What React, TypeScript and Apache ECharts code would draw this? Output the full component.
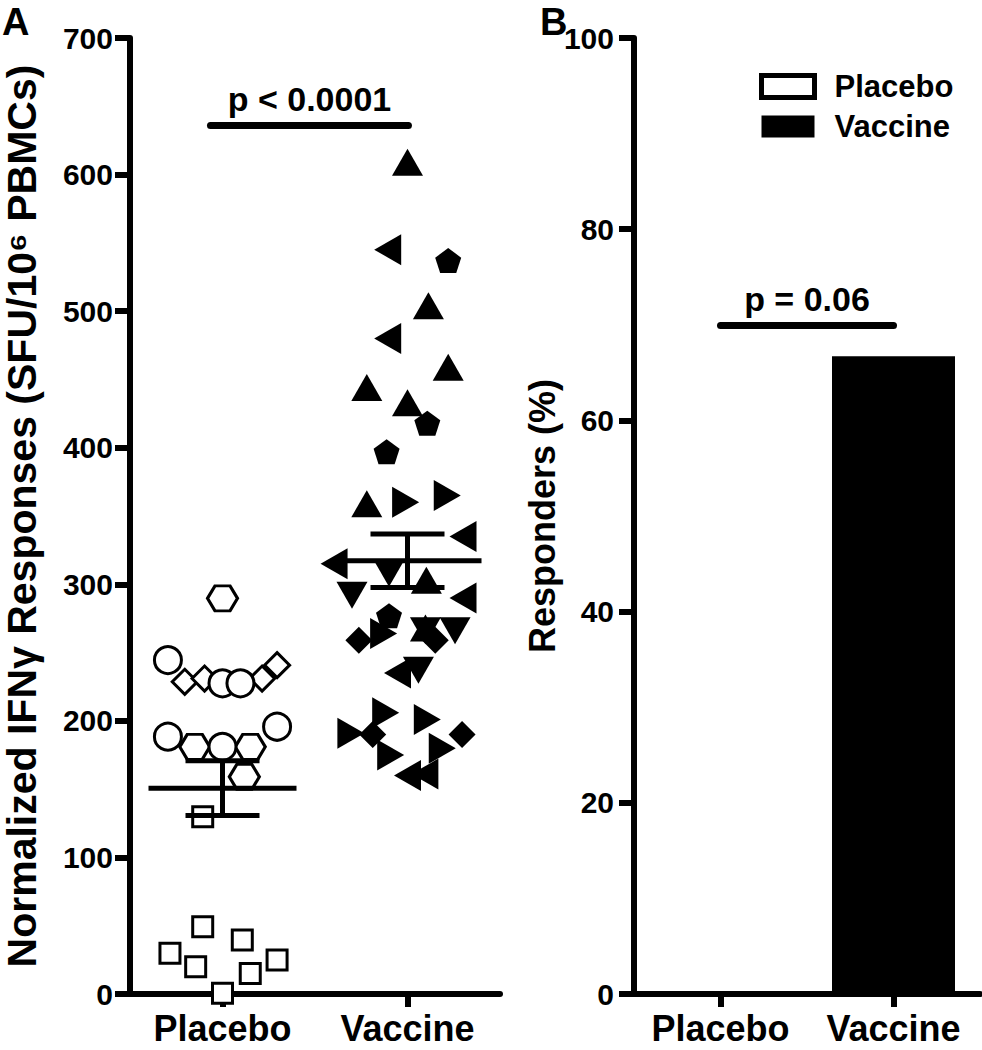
import React, { useEffect, useRef } from "react";
import * as echarts from "echarts";

// ---------- data ----------
const groups = ["Placebo", "Vaccine"];

// Panel A: [offset from group centre (axis units), SFU / 10^6 PBMCs]
const placeboSquares = [[-0.107, 129.8], [-0.107, 49.3], [0.107, 39.5], [-0.284, 29.8], [-0.145, 20], [0.295, 24.9], [0.15, 15.1], [0, 0.5]];
const placeboDiamonds = [[-0.204, 228.6], [-0.097, 231], [0.214, 231], [0.295, 240.8]];
const placeboHexagons = [[0, 289.7], [-0.15, 181], [0.15, 181], [0.118, 159]];
const placeboCircles = [[-0.295, 244.5], [0, 227.5], [0.097, 227.5], [-0.295, 188.4], [0, 181], [0.295, 195.7]];

const vaccineUp = [[0, 609], [0.113, 504], [0.22, 459], [-0.22, 444], [0, 433], [-0.22, 359], [0.102, 303], [0.097, 268]];
const vaccineLeft = [[-0.107, 545], [-0.107, 480], [0.3, 335], [-0.397, 315], [0.3, 290], [-0.054, 235], [0, 160], [0.094, 161]];
const vaccinePentagons = [[0.22, 537], [0.107, 418], [-0.113, 397], [-0.1, 277]];
const vaccineRight = [[-0.01, 360], [0.215, 365], [-0.129, 264], [-0.118, 206], [-0.306, 191], [-0.091, 175], [0.107, 201], [0.188, 180]];
const vaccineDown = [[-0.1, 308], [-0.3, 292], [0.097, 266], [0.257, 266], [0.059, 237]];
const vaccineDiamonds = [[-0.263, 259], [0.15, 259], [-0.188, 190], [0.295, 190]];

const yTicksA = { min: 0, max: 700, interval: 100 };
const sigA = { from: -0.065, to: 1.005, y: 636, text: "p < 0.0001" };

// Panel B: responders (%)
const responders = [0, 66.7];
const yTicksB = { min: 0, max: 100, interval: 20 };
const sigB = { y: 70, text: "p = 0.06" };

// ---------- helpers ----------
const FONT = "'Liberation Sans', Arial, Helvetica, sans-serif";
const TRI_UP = "path://M50,0L100,87L0,87Z";
const TRI_DOWN = "path://M0,0L100,0L50,87Z";
const TRI_LEFT = "path://M87,0L87,100L0,50Z";
const TRI_RIGHT = "path://M0,0L87,50L0,100Z";
const PENTAGON = "path://M50,0L97.55,34.55L79.4,90.45L20.6,90.45L2.45,34.55Z";
const HEXAGON = "path://M25,0L75,0L100,43.3L75,86.6L25,86.6L0,43.3Z";

function stats(sets: number[][][]) {
  const vals = sets.flat().map((p) => p[1]);
  const n = vals.length;
  const mean = vals.reduce((a, b) => a + b, 0) / n;
  const sd = Math.sqrt(vals.reduce((a, b) => a + (b - mean) ** 2, 0) / (n - 1));
  return [mean, sd / Math.sqrt(n)];
}

function scatter(name: string, data: number[][], gi: number, symbol: string, size: any, filled: boolean) {
  return {
    type: "scatter",
    name,
    xAxisIndex: 0,
    yAxisIndex: 0,
    data: data.map(([dx, v]) => [gi + dx, v]),
    symbol,
    symbolSize: size,
    itemStyle: filled
      ? { color: "#000", opacity: 1 }
      : { color: "#fff", borderColor: "#000", borderWidth: 3, opacity: 1 },
    emphasis: { disabled: true },
    silent: true,
    z: 3,
  };
}

export default function App() {
  const ref = useRef<HTMLDivElement>(null);

  useEffect(() => {
    document.body.style.margin = "0";
    const chart = echarts.init(ref.current!, null, { renderer: "svg" });

    const placeboStats = stats([placeboSquares, placeboDiamonds, placeboHexagons, placeboCircles]);
    const vaccineStats = stats([vaccineUp, vaccineLeft, vaccinePentagons, vaccineRight, vaccineDown, vaccineDiamonds]);

    const axisLine = { show: true, onZero: false, lineStyle: { color: "#000", width: 6 } };
    const tickLabel = { color: "#000", fontSize: 30, fontWeight: "bold", fontFamily: FONT };
    const sigLabel = {
      show: true,
      position: "middle",
      fontSize: 34,
      fontWeight: "bold",
      color: "#000",
      fontFamily: FONT,
      distance: 9,
    };
    const panelLetter = { fontSize: 38, fontWeight: "bold", color: "#000", fontFamily: FONT };

    const option: any = {
      animation: false,
      backgroundColor: "#fff",
      title: [
        { text: "A", left: 2, top: 3, padding: 0, textStyle: panelLetter },
        { text: "B", left: 540, top: 3, padding: 0, textStyle: panelLetter },
      ],
      legend: {
        orient: "vertical",
        left: 754,
        top: 66,
        itemWidth: 53,
        itemHeight: 22,
        itemGap: 9,
        icon: "rect",
        selectedMode: false,
        data: [
          { name: "Placebo", itemStyle: { color: "#fff", borderColor: "#000", borderWidth: 5 } },
          { name: "Vaccine", itemStyle: { color: "#000", borderWidth: 0 } },
        ],
        textStyle: { fontSize: 31, fontWeight: "bold", color: "#000", fontFamily: FONT, padding: [0, 0, 0, 15] },
      },
      grid: [
        { left: 127, top: 38, width: 373, height: 956 },
        { left: 634, top: 38, width: 346, height: 956 },
      ],
      xAxis: [
        {
          type: "value",
          gridIndex: 0,
          min: -0.5,
          max: 1.5,
          splitLine: { show: false },
          axisLine,
          axisTick: { show: true, customValues: [0, 1], length: 13, lineStyle: { color: "#000", width: 6 } },
          axisLabel: {
            ...tickLabel,
            fontSize: 36,
            margin: 16,
            customValues: [0, 1],
            formatter: (v: number) => groups[Math.round(v)] ?? "",
          },
        },
        {
          type: "category",
          gridIndex: 1,
          data: groups,
          axisLine,
          axisTick: { show: true, alignWithLabel: true, interval: 0, length: 13, lineStyle: { color: "#000", width: 6 } },
          axisLabel: { ...tickLabel, fontSize: 36, margin: 16, interval: 0, hideOverlap: false },
        },
      ],
      yAxis: [
        {
          type: "value",
          gridIndex: 0,
          min: yTicksA.min,
          max: yTicksA.max,
          interval: yTicksA.interval,
          splitLine: { show: false },
          axisLine,
          axisTick: { show: true, length: 15, lineStyle: { color: "#000", width: 6 } },
          axisLabel: { ...tickLabel, margin: 17 },
          name: "Normalized IFNγ Responses (SFU/10⁶ PBMCs)",
          nameLocation: "middle",
          nameGap: 88,
          nameTextStyle: { fontSize: 41, fontWeight: "bold", color: "#000", fontFamily: FONT },
        },
        {
          type: "value",
          gridIndex: 1,
          min: yTicksB.min,
          max: yTicksB.max,
          interval: yTicksB.interval,
          splitLine: { show: false },
          axisLine,
          axisTick: { show: true, length: 15, lineStyle: { color: "#000", width: 6 } },
          axisLabel: { ...tickLabel, margin: 20 },
          name: "Responders (%)",
          nameLocation: "middle",
          nameGap: 66,
          nameTextStyle: { fontSize: 36, fontWeight: "bold", color: "#000", fontFamily: FONT },
        },
      ],
      series: [
        scatter("Placebo squares", placeboSquares, 0, "rect", 20, false),
        scatter("Placebo diamonds", placeboDiamonds, 0, "diamond", 25, false),
        scatter("Placebo hexagons", placeboHexagons, 0, HEXAGON, [30, 25], false),
        scatter("Placebo circles", placeboCircles, 0, "circle", 27, false),
        scatter("Vaccine up", vaccineUp, 1, TRI_UP, [31, 27], true),
        scatter("Vaccine left", vaccineLeft, 1, TRI_LEFT, [27, 31], true),
        scatter("Vaccine pentagons", vaccinePentagons, 1, PENTAGON, [26, 25], true),
        scatter("Vaccine right", vaccineRight, 1, TRI_RIGHT, [27, 31], true),
        scatter("Vaccine down", vaccineDown, 1, TRI_DOWN, [31, 27], true),
        scatter("Vaccine diamonds", vaccineDiamonds, 1, "diamond", 27, true),
        {
          type: "custom",
          name: "Mean ± SEM",
          xAxisIndex: 0,
          yAxisIndex: 0,
          z: 5,
          silent: true,
          data: [
            [0, placeboStats[0], placeboStats[1]],
            [1, vaccineStats[0], vaccineStats[1]],
          ],
          renderItem: (params: any, api: any) => {
            const x = api.value(0), m = api.value(1), s = api.value(2);
            const a = api.coord([x - 0.4, m]), b = api.coord([x + 0.4, m]);
            const t = api.coord([x, m + s]), u = api.coord([x, m - s]);
            const tl = api.coord([x - 0.2, m + s]), tr = api.coord([x + 0.2, m + s]);
            const bl = api.coord([x - 0.2, m - s]), br = api.coord([x + 0.2, m - s]);
            const style = { stroke: "#000", lineWidth: 5 };
            const ln = (p: number[], q: number[]) => ({ type: "line", shape: { x1: p[0], y1: p[1], x2: q[0], y2: q[1] }, style });
            return { type: "group", children: [ln(a, b), ln(t, u), ln(tl, tr), ln(bl, br)] };
          },
          markLine: {
            silent: true,
            symbol: ["none", "none"],
            lineStyle: { color: "#000", width: 7, type: "solid", cap: "round" },
            label: { ...sigLabel, formatter: sigA.text },
            emphasis: { disabled: true },
            data: [[{ coord: [sigA.from, sigA.y] }, { coord: [sigA.to, sigA.y] }]],
          },
        },
        {
          type: "bar",
          name: "Placebo",
          xAxisIndex: 1,
          yAxisIndex: 1,
          barWidth: 123,
          barGap: "-100%",
          data: [responders[0], "-"],
          itemStyle: { color: "#fff", borderColor: "#000", borderWidth: 5 },
          emphasis: { disabled: true },
          silent: true,
        },
        {
          type: "bar",
          name: "Vaccine",
          xAxisIndex: 1,
          yAxisIndex: 1,
          barWidth: 123,
          barGap: "-100%",
          data: ["-", responders[1]],
          itemStyle: { color: "#000" },
          emphasis: { disabled: true },
          silent: true,
          markLine: {
            silent: true,
            symbol: ["none", "none"],
            lineStyle: { color: "#000", width: 7, type: "solid", cap: "round" },
            label: { ...sigLabel, formatter: sigB.text },
            emphasis: { disabled: true },
            data: [[{ coord: [groups[0], sigB.y] }, { coord: [groups[1], sigB.y] }]],
          },
        },
      ],
    };

    chart.setOption(option);
    return () => chart.dispose();
  }, []);

  return <div ref={ref} style={{ width: 982, height: 1050 }} />;
}
